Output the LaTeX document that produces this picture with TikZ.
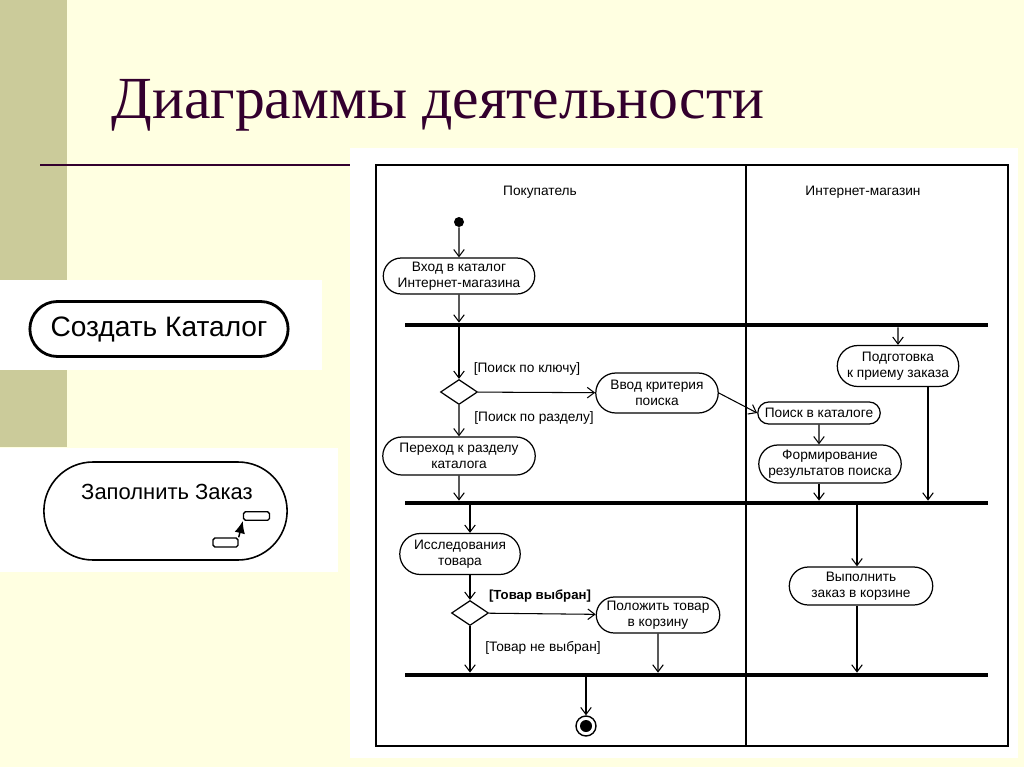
\documentclass[tikz,border=0pt]{standalone}
\usepackage{fontspec}
\setmainfont{Liberation Sans}
\newfontfamily\titlefont{Liberation Serif}
\usetikzlibrary{shapes.misc,shapes.geometric,arrows.meta,calc}
\definecolor{slidebg}{HTML}{FFFFE1}
\definecolor{strip}{HTML}{CBCB9A}
\definecolor{titlecol}{HTML}{33002E}
\begin{document}
\begin{tikzpicture}[x=0.02cm, y=-0.02cm,
    act/.style={draw, rounded rectangle, line width=0.7pt, align=center, inner sep=1pt, font=\fontsize{7.8}{8.8}\selectfont},
    bar/.style={fill=black, inner sep=0pt, minimum width=11.66cm, minimum height=0.08cm},
    branch/.style={draw, diamond, aspect=1.4, line width=0.7pt, inner sep=0pt, minimum width=0.74cm, minimum height=0.5cm},
    guard/.style={font=\fontsize{7.8}{8.8}\selectfont, inner sep=0pt},
    flow/.style={line width=0.6pt, -{Straight Barb[length=4pt,width=6pt]}}]
    \useasboundingbox (0,0) rectangle (1024,767);
    % Fon slajda
    \fill[slidebg] (0,0) rectangle (1024,767);
    \fill[strip] (0,0) rectangle (67,447);
    \node[font=\titlefont\fontsize{34}{38}\selectfont, text=titlecol, anchor=base west, inner sep=0pt] (title) at (111,118) {Диаграммы деятельности};
    \draw[titlecol, line width=1.7pt] (40,165) -- (350,165);

    % Sostojanie dejstvija
    \fill[white] (0,280) rectangle (322,370);
    \node[draw, rounded rectangle, line width=1.6pt, minimum width=5.4cm, minimum height=1.1cm, font=\fontsize{16}{18}\selectfont] (create) at (159,329) {Создать Каталог};

    % Vlozhennaja dejatelnost
    \fill[white] (0,448) rectangle (338,572);
    \node[draw, rounded rectangle, line width=0.9pt, minimum width=5.1cm, minimum height=1.96cm] (fill) at (165.5,511) {};
    \node[font=\fontsize{12.5}{14}\selectfont] (fillname) at (167,492) {Заполнить Заказ};
    \node[draw, rounded corners=1pt, line width=0.8pt, inner sep=0pt, minimum width=0.52cm, minimum height=0.17cm] (subup) at (256.5,516) {};
    \node[draw, rounded corners=1pt, line width=0.8pt, inner sep=0pt, minimum width=0.5cm, minimum height=0.18cm] (sublow) at (225.5,542.5) {};
    \draw[line width=0.8pt, -{Latex[length=7pt,width=6pt]}] (sublow.north east) -- (subup.south west);

    % Diagramma s dorozhkami
    \fill[white] (350,148) rectangle (1018,758);
    \draw[line width=0.8pt] (376,165) rectangle (1008,746);
    \draw[line width=0.8pt] (746,165) -- (746,746);
    \node[guard] (buyer) at (540,192) {Покупатель};
    \node[guard] (shop) at (863,192) {Интернет-магазин};

    % Pokupatel
    \node[circle, fill=black, inner sep=0pt, minimum size=0.2cm] (start) at (459,222) {};
    \node[act, minimum width=3.1cm, minimum height=0.72cm] (enter) at (459,276) {Вход в каталог\\Интернет-магазина};
    \node[bar] (bar1) at (696.5,325) {};
    \node[branch] (dec1) at (459,392) {};
    \node[guard] (key) at (527,369) {[Поиск по ключу]};
    \node[act, minimum width=2.52cm, minimum height=0.8cm] (crit) at (657,393) {Ввод критерия\\поиска};
    \node[guard] (part) at (534,418) {[Поиск по разделу]};
    \node[act, minimum width=3.12cm, minimum height=0.76cm] (sect) at (459,456) {Переход к разделу\\каталога};
    \node[bar] (bar2) at (696.5,503) {};
    \node[act, minimum width=2.48cm, minimum height=0.82cm] (study) at (460,554) {Исследования\\товара};
    \coordinate (studyx) at (470,0);
    \node[branch] (dec2) at (470,613) {};
    \node[guard, font=\bfseries\fontsize{7.5}{8.5}\selectfont] (chosen) at (540,596) {[Товар выбран]};
    \node[act, minimum width=2.54cm, minimum height=0.72cm] (put) at (658,615) {Положить товар\\в корзину};
    \node[guard] (notchosen) at (543,648) {[Товар не выбран]};
    \node[bar] (bar3) at (696.5,675) {};
    \node[circle, draw, line width=0.8pt, inner sep=0pt, minimum size=0.4cm] (stop) at (586,726) {};
    \fill[black] (stop.center) circle (6);

    % Internet-magazin
    \node[act, minimum width=2.5cm, minimum height=0.82cm] (prep) at (898,366) {Подготовка\\к приему заказа};
    \coordinate (prepx) at (928,0);
    \node[act, minimum width=2.52cm, minimum height=0.44cm] (search) at (819,413) {Поиск в каталоге};
    \node[act, minimum width=2.92cm, minimum height=0.76cm] (form) at (830,464) {Формирование\\результатов поиска};
    \node[act, minimum width=2.94cm, minimum height=0.76cm] (exec) at (861,586) {Выполнить\\заказ в корзине};
    \coordinate (execx) at (857,0);

    % Perehody
    \draw[flow] (start) -- (enter);
    \draw[flow] (enter) -- (enter.south |- bar1.north);
    \draw[flow] (dec1.north |- bar1.south) -- (dec1);
    \draw[flow] (dec1) -- (crit);
    \draw[flow] (dec1) -- (sect);
    \draw[flow] (crit.east) -- (search.west);
    \draw[flow] (sect) -- (sect.south |- bar2.north);
    \draw[flow] (prep.north |- bar1.south) -- (prep);
    \draw[flow] (search) -- (search.south |- form.north);
    \draw[flow] (search.south |- form.south) -- (search.south |- bar2.north);
    \draw[flow] (prepx |- prep.south) -- (prepx |- bar2.north);
    \draw[flow] (studyx |- bar2.south) -- (studyx |- study.north);
    \draw[flow] (studyx |- study.south) -- (dec2);
    \draw[flow] (dec2) -- (put);
    \draw[flow] (dec2) -- (dec2.south |- bar3.north);
    \draw[flow] (put) -- (put.south |- bar3.north);
    \draw[flow] (execx |- bar2.south) -- (execx |- exec.north);
    \draw[flow] (execx |- exec.south) -- (execx |- bar3.north);
    \draw[flow] (stop.north |- bar3.south) -- (stop);
\end{tikzpicture}
\end{document}
